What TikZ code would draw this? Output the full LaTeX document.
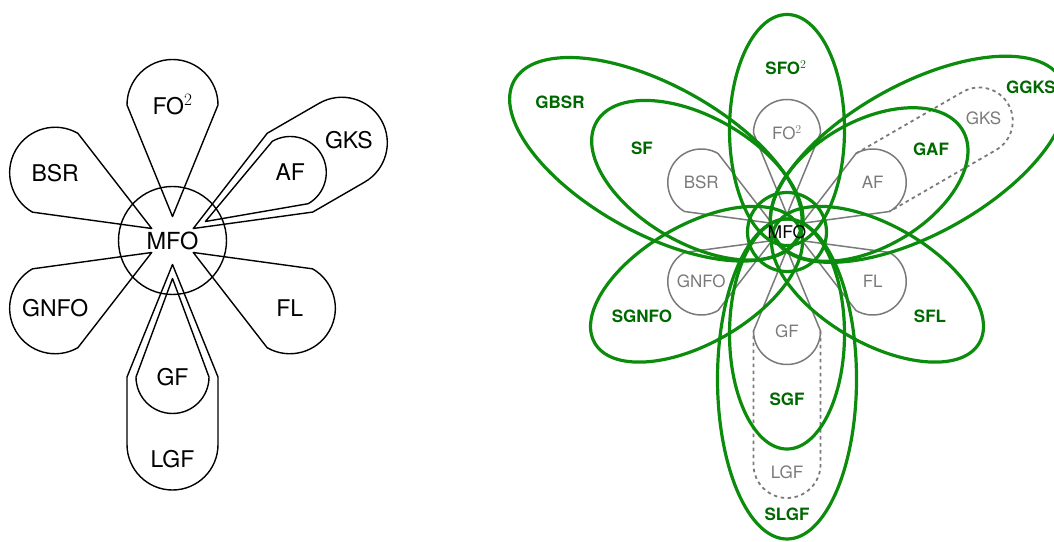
\documentclass[tikz,border=0pt]{standalone}
\usepackage{fontspec}
\setmainfont{TeX Gyre Heros}

\definecolor{petalgrey}{RGB}{122,122,122}
\definecolor{ringgreen}{RGB}{12,140,12}
\definecolor{textgreen}{RGB}{0,104,0}

\tikzset{
  petal/.style={draw=black, line width=1.4pt, line join=round},
  soft/.style={draw=petalgrey, line width=1.5pt, line join=round},
  dotcap/.style={draw=petalgrey, line width=1.8pt, dash pattern=on 3.5pt off 3.5pt},
  ring/.style={draw=ringgreen, line width=3.2pt},
  bigname/.style={font=\fontsize{23}{27}\selectfont, inner sep=0pt},
  greyname/.style={font=\fontsize{17}{20}\selectfont, text=petalgrey, inner sep=0pt},
  greenname/.style={font=\fontsize{17}{20}\selectfont\bfseries, text=textgreen, inner sep=0pt},
}

\begin{document}
\begin{tikzpicture}[x=1pt, y=1pt]
\useasboundingbox (0,0) rectangle (1054,541);

% left flower
\node[petal, circle, minimum size=108pt, inner sep=0pt,
      font=\fontsize{23.5}{27}\selectfont] (mfoL) at (172.5,300.5) {MFO};
\begin{scope}[shift={(mfoL.center)}]
  \foreach \ang in {90,150,210,-30}
    \draw[petal, rotate=\ang] (24,0) -- (135.5,-45.5) arc[start angle=-90, end angle=90, radius=45.5] -- cycle;
  % AF inside GKS
  \draw[petal, rotate=30] (38,0) -- (136,-36) arc[start angle=-90, end angle=90, radius=36] -- cycle;
  \draw[petal, rotate=30] (24,0) -- (135.7,-45.5) -- (195.5,-45.5)
    arc[start angle=-90, end angle=90, radius=45.5] -- (135.7,45.5) -- cycle;
  % GF inside LGF
  \draw[petal, rotate=-90] (38,0) -- (136.5,-36.5) arc[start angle=-90, end angle=90, radius=36.5] -- cycle;
  \draw[petal, rotate=-90] (24,0) -- (136.5,-45.5) -- (204,-45.5)
    arc[start angle=-90, end angle=90, radius=45.5] -- (136.5,45.5) -- cycle;
\end{scope}
\path (mfoL) ++(90:135.5) node[bigname] (foL) {FO$^2$};
\path (mfoL) ++(150:135.5) node[bigname] (bsrL) {BSR};
\path (mfoL) ++(210:135.5) node[bigname] (gnfoL) {GNFO};
\path (mfoL) ++(-30:135.5) node[bigname] (flL) {FL};
\path (mfoL) ++(30:136) node[bigname] (afL) {AF};
\path (mfoL) ++(29.7:203) node[bigname] (gksL) {GKS};
\path (mfoL) ++(-90:136.5) node[bigname] (gfL) {GF};
\path (mfoL) ++(-90:218.5) node[bigname] (lgfL) {LGF};

% right flower
\coordinate (mfoR) at (787,309);
\begin{scope}[shift={(mfoR)}]
  \foreach \ang in {90,150,210,-30,30,-90}
    \draw[soft, rotate=\ang] (17.5,0) -- (99,-33.5) arc[start angle=-90, end angle=90, radius=33.5] -- cycle;
  \draw[dotcap, rotate=30] (99,33.5) -- (222,33.5) arc[start angle=90, end angle=-90, radius=33.5] -- (99,-33.5);
  \draw[dotcap, rotate=-90] (99,33.5) -- (232.5,33.5) arc[start angle=90, end angle=-90, radius=33.5] -- (99,-33.5);

  % green groupings
  \draw[ring, rotate=90] (102,0) ellipse[x radius=115.5, y radius=57.5];
  \draw[ring, rotate=-90] (102,0) ellipse[x radius=115, y radius=57.5];
  \draw[ring, rotate=-90] (147,0) ellipse[x radius=160, y radius=69.5];
  \draw[ring, rotate=150] (103.5,0) ellipse[x radius=116.5, y radius=63];
  \draw[ring, rotate=151] (150,0) ellipse[x radius=162, y radius=74];
  \draw[ring, rotate=30] (95,0) ellipse[x radius=108, y radius=63];
  \draw[ring, rotate=29] (150,0) ellipse[x radius=164, y radius=75];
  \draw[ring, rotate=210] (104.5,0) ellipse[x radius=117.5, y radius=59];
  \draw[ring, rotate=-30] (104.5,0) ellipse[x radius=117.5, y radius=59];
  \draw[ring] (0,0) circle[radius=39.5];
\end{scope}
\node[font=\fontsize{17.5}{20}\selectfont, inner sep=0pt] (mfoRt) at (mfoR) {MFO};
\path (mfoR) ++(90:99) node[greyname] (foR) {FO$^2$};
\path (mfoR) ++(150:99) node[greyname] (bsrR) {BSR};
\path (mfoR) ++(210:99) node[greyname] (gnfoR) {GNFO};
\path (mfoR) ++(-30:99) node[greyname] (flR) {FL};
\path (mfoR) ++(30:99) node[greyname] (afR) {AF};
\path (mfoR) ++(-90:99) node[greyname] (gfR) {GF};
\path (mfoR) ++(30:227) node[greyname] (gksR) {GKS};
\path (mfoR) ++(-90:240) node[greyname] (lgfR) {LGF};

\node[greenname] (gbsr) at (560,439) {GBSR};
\node[greenname] (sf) at (642,393) {SF};
\node[greenname] (sfo) at (786,473) {SFO$^2$};
\node[greenname] (gaf) at (931,392) {GAF};
\node[greenname, anchor=west] (ggks) at (1006,454) {GGKS};
\node[greenname] (sgnfo) at (642,225) {SGNFO};
\node[greenname] (sfl) at (930,225) {SFL};
\node[greenname] (sgf) at (787,142) {SGF};
\node[greenname] (slgf) at (787,27) {SLGF};
\end{tikzpicture}
\end{document}
